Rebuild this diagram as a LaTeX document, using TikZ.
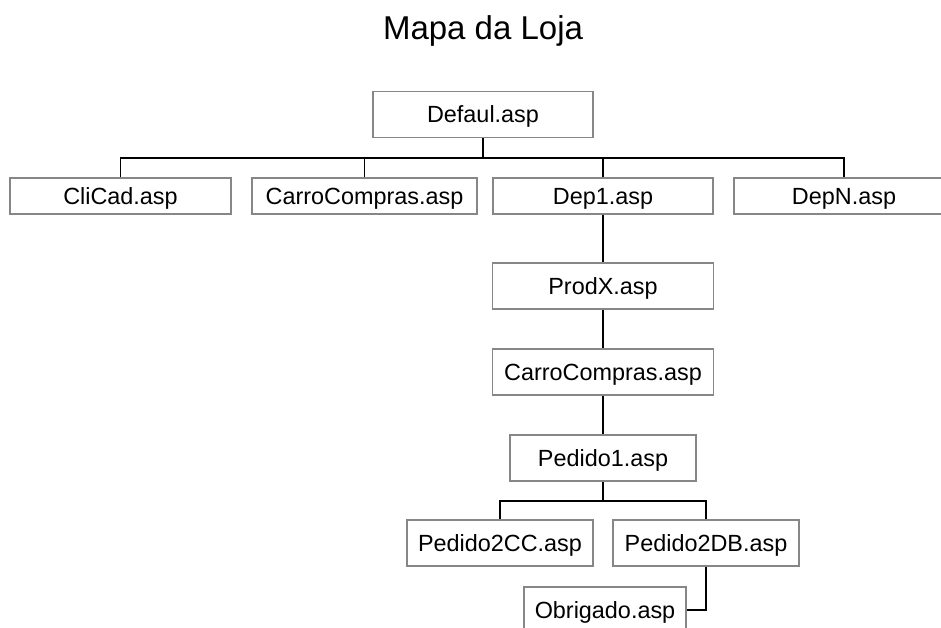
\documentclass[tikz,border=0pt]{standalone}
\usepackage{fontspec}
\setmainfont{Liberation Sans}
\definecolor{boxline}{RGB}{135,135,135}
\begin{document}
\begin{tikzpicture}[x=1pt,y=-1pt,
  page/.style={draw=boxline,line width=1.3pt,fill=white,rectangle,inner sep=0pt,
    text height=16.8pt,text depth=0pt,
    font=\fontsize{23.4}{28}\selectfont},
  tall/.style={page,minimum height=46pt},
  short/.style={page,minimum height=36pt},
  link/.style={draw=black,line width=1.4pt}]
\useasboundingbox (0,0) rectangle (941,628);
\clip (0,0) rectangle (941,628);
\fill[white] (0,0) rectangle (941,628);

% title
\node[anchor=base,font=\fontsize{33}{40}\selectfont] (title) at (483,40) {Mapa da Loja};

% top level
\node[tall,minimum width=220pt] (def) at (483,114.5) {Defaul.asp};

% first level
\node[short,minimum width=221pt] (cli) at (120.5,196) {CliCad.asp};
\node[short,minimum width=225pt] (carro) at (364.5,196) {CarroCompras.asp};
\node[short,minimum width=220pt] (dep1) at (603,196) {Dep1.asp};
\node[short,minimum width=220pt] (depn) at (844,196) {DepN.asp};

% purchase flow
\node[tall,minimum width=221pt] (prod) at (603,286) {ProdX.asp};
\node[tall,minimum width=221pt] (carro2) at (603,372) {CarroCompras.asp};
\node[tall,minimum width=186pt] (ped1) at (603,458) {Pedido1.asp};
\node[tall,minimum width=186pt] (cc) at (500,543) {Pedido2CC.asp};
\node[tall,minimum width=186pt] (db) at (706,543) {Pedido2DB.asp};
\node[tall,minimum width=162pt] (obr) at (605,610) {Obrigado.asp};

% connectors
\coordinate (b1) at (483,158);
\coordinate (b2) at (603,501);
\draw[link] (def.south) -- (b1);
\draw[link] (cli.north) |- (b1);
\draw[link] (carro.north) |- (b1);
\draw[link] (dep1.north) |- (b1);
\draw[link] (depn.north) |- (b1);
\draw[link] (dep1.south) -- (prod.north);
\draw[link] (prod.south) -- (carro2.north);
\draw[link] (carro2.south) -- (ped1.north);
\draw[link] (ped1.south) -- (b2);
\draw[link] (cc.north) |- (b2);
\draw[link] (db.north) |- (b2);
\draw[link] (db.south) |- (obr.east);
\end{tikzpicture}
\end{document}
